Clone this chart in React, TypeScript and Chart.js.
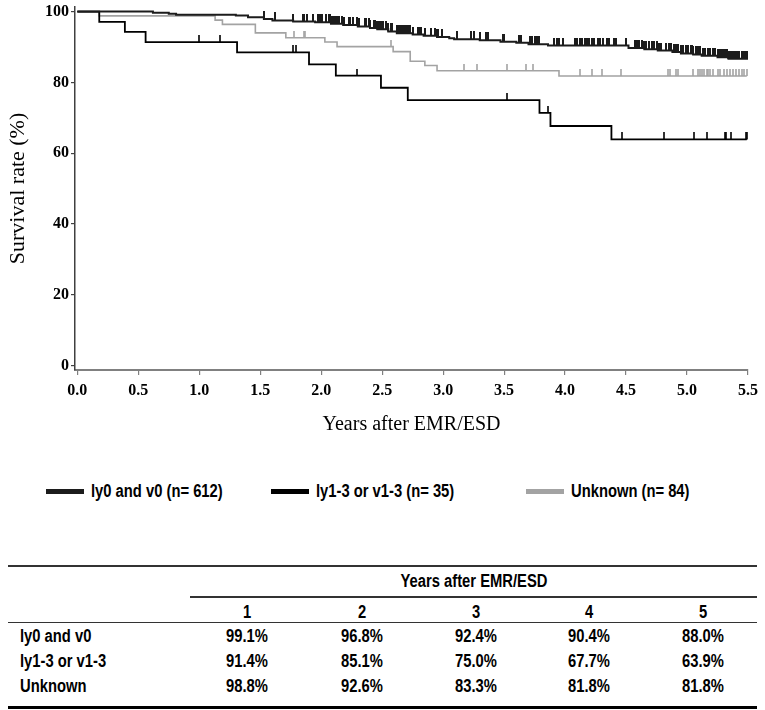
import React, { useEffect, useRef } from 'react';
import { Chart, registerables } from 'chart.js';

Chart.register(...registerables);

// Axis ticks
const xTickValues = [0, 0.5, 1, 1.5, 2, 2.5, 3, 3.5, 4, 4.5, 5, 5.5];
const xTickLabels = ['0.0', '0.5', '1.0', '1.5', '2.0', '2.5', '3.0', '3.5', '4.0', '4.5', '5.0', '5.5'];
const yTickValues = [0, 20, 40, 60, 80, 100];
const yTickLabels = ['0', '20', '40', '60', '80', '100'];

const seriesNames = ['ly0 and v0 (n= 612)', 'ly1-3 or v1-3 (n= 35)', 'Unknown (n= 84)'];

// ly0 and v0: step times (years) and survival (%) after each step
const negTimes = [0, 0.62, 0.75, 0.81, 1.30, 1.40, 1.53, 1.60, 1.77, 1.95, 2.08, 2.18, 2.30, 2.40, 2.46, 2.55, 2.62, 2.75, 2.84, 2.95, 3.05, 3.09, 3.30, 3.47, 3.60, 3.70, 3.86, 4.52, 4.65, 4.76, 4.88, 4.95, 5.05, 5.12, 5.25, 5.34, 5.50];
const negSurv = [100, 99.7, 99.4, 99.1, 98.9, 98.4, 97.9, 97.5, 97.2, 97.0, 96.6, 96.2, 95.8, 95.4, 95.0, 94.4, 93.9, 93.5, 93.2, 92.8, 92.5, 92.2, 91.9, 91.5, 91.2, 90.8, 90.4, 89.7, 89.4, 89.0, 88.6, 88.2, 87.9, 87.5, 87.1, 86.7, 86.7];
const negCensor = [1.53, 1.62, 1.77, 1.85, 1.86, 1.88, 1.93, 1.97, 1.99, 2.01, 2.04, 2.06, 2.07, 2.08, 2.10, 2.11, 2.12, 2.13, 2.14, 2.15, 2.17, 2.19, 2.23, 2.24, 2.26, 2.29, 2.31, 2.36, 2.37, 2.39, 2.40, 2.43, 2.44, 2.46, 2.47, 2.49, 2.50, 2.51, 2.53, 2.55, 2.57, 2.58, 2.62, 2.63, 2.64, 2.65, 2.66, 2.68, 2.69, 2.70, 2.72, 2.73, 2.75, 2.79, 2.80, 2.82, 2.85, 2.90, 2.93, 2.95, 2.96, 2.99, 3.11, 3.23, 3.25, 3.30, 3.35, 3.37, 3.49, 3.50, 3.62, 3.64, 3.71, 3.73, 3.75, 3.77, 3.79, 3.91, 3.93, 3.95, 3.98, 4.08, 4.10, 4.12, 4.14, 4.16, 4.18, 4.20, 4.22, 4.24, 4.27, 4.29, 4.31, 4.34, 4.36, 4.40, 4.42, 4.50, 4.57, 4.59, 4.61, 4.63, 4.65, 4.66, 4.69, 4.71, 4.73, 4.75, 4.77, 4.79, 4.83, 4.85, 4.87, 4.89, 4.91, 4.93, 4.95, 4.96, 4.97, 4.99, 5.00, 5.01, 5.03, 5.04, 5.05, 5.07, 5.08, 5.09, 5.11, 5.13, 5.14, 5.15, 5.17, 5.18, 5.19, 5.21, 5.22, 5.23, 5.25, 5.26, 5.27, 5.29, 5.30, 5.31, 5.33, 5.34, 5.35, 5.37, 5.38, 5.39, 5.41, 5.42, 5.43, 5.45, 5.46, 5.47, 5.48, 5.49];

// ly1-3 or v1-3
const posTimes = [0, 0.18, 0.39, 0.56, 1.31, 1.90, 2.12, 2.49, 2.71, 3.79, 3.88, 4.38, 5.49];
const posSurv = [100, 97.1, 94.3, 91.4, 88.5, 85.1, 81.9, 78.5, 75.0, 71.4, 67.7, 63.9, 63.9];
const posCensor = [1.00, 1.17, 1.77, 1.79, 2.29, 3.52, 3.86, 4.47, 4.81, 5.06, 5.16, 5.31, 5.32, 5.36, 5.48, 5.49];

// Unknown
const unkTimes = [0, 0.18, 1.13, 1.19, 1.46, 1.71, 2.03, 2.13, 2.59, 2.73, 2.85, 2.95, 3.95, 5.49];
const unkSurv = [100, 98.8, 97.6, 96.4, 94.0, 92.6, 91.4, 90.1, 88.7, 86.0, 84.8, 83.3, 81.8, 81.8];
const unkCensor = [1.78, 1.86, 1.87, 2.57, 3.17, 3.28, 3.52, 3.68, 3.74, 4.12, 4.22, 4.30, 4.46, 4.84, 4.86, 4.91, 4.93, 5.05, 5.09, 5.11, 5.12, 5.14, 5.16, 5.17, 5.19, 5.21, 5.25, 5.27, 5.30, 5.33, 5.35, 5.38, 5.40, 5.43, 5.45, 5.47, 5.49];

// Table
const tableTitle = 'Years after EMR/ESD';
const tableYears = ['1', '2', '3', '4', '5'];
const tableRowNames = ['ly0 and v0', 'ly1-3 or v1-3', 'Unknown'];
const tableNeg = ['99.1%', '96.8%', '92.4%', '90.4%', '88.0%'];
const tablePos = ['91.4%', '85.1%', '75.0%', '67.7%', '63.9%'];
const tableUnk = ['98.8%', '92.6%', '83.3%', '81.8%', '81.8%'];

const COLORS = { neg: '#1c1c1c', pos: '#000000', unk: '#a3a3a3' };

function survivalAt(times: number[], surv: number[], t: number) {
  let v = surv[0];
  for (let i = 0; i < times.length; i++) {
    if (times[i] <= t) v = surv[i];
  }
  return v;
}

function makeTick(color: string, len: number, w: number) {
  const c = document.createElement('canvas');
  c.width = 2;
  c.height = len * 2;
  const g = c.getContext('2d')!;
  g.fillStyle = color;
  g.fillRect((2 - w) / 2, 0, w, len);
  return c;
}

const SANS = "'Liberation Sans', Arial, sans-serif";
const SERIF = "'Liberation Serif', serif";

export default function App() {
  const ref = useRef<HTMLCanvasElement>(null);

  useEffect(() => {
    const canvas = ref.current!;
    const stepLine = (times: number[], surv: number[], color: string, width: number) => ({
      type: 'scatter' as const,
      data: times.map((t, i) => ({ x: t, y: surv[i] })),
      showLine: true,
      stepped: 'before' as const,
      borderColor: color,
      borderWidth: width,
      pointRadius: 0,
      fill: false,
    });
    const censor = (cs: number[], times: number[], surv: number[], color: string, len: number, w: number) => ({
      type: 'scatter' as const,
      data: cs.map((t) => ({ x: t, y: survivalAt(times, surv, t) })),
      showLine: false,
      pointStyle: makeTick(color, len, w),
      pointRadius: 3,
      borderWidth: 0,
    });

    const chart = new Chart(canvas, {
      type: 'scatter',
      data: {
        datasets: [
          censor(negCensor, negTimes, negSurv, COLORS.neg, 8, 2),
          censor(posCensor, posTimes, posSurv, COLORS.pos, 7, 1.6),
          censor(unkCensor, unkTimes, unkSurv, COLORS.unk, 7, 1.6),
          stepLine(negTimes, negSurv, COLORS.neg, 2),
          stepLine(posTimes, posSurv, COLORS.pos, 1.8),
          stepLine(unkTimes, unkSurv, COLORS.unk, 1.6),
        ] as any,
      },
      options: {
        animation: false,
        responsive: false,
        maintainAspectRatio: false,
        events: [],
        layout: { padding: { top: 7, right: 17, left: 0, bottom: 0 } },
        plugins: { legend: { display: false }, tooltip: { enabled: false } },
        scales: {
          x: {
            type: 'linear',
            min: -0.019,
            max: 5.5,
            afterBuildTicks: (s: any) => {
              s.ticks = xTickValues.map((v) => ({ value: v }));
            },
            afterFit: (s: any) => {
              s.height = 70;
              s.paddingLeft = 0;
              s.paddingRight = 0;
            },
            ticks: {
              autoSkip: false,
              maxRotation: 0,
              padding: 6,
              color: '#000',
              font: { family: SERIF, size: 16, weight: 'bold' },
              callback: (v: any) => xTickLabels[xTickValues.indexOf(Number(v))] ?? '',
            },
            grid: { display: true, drawOnChartArea: false, drawTicks: true, tickLength: 5, color: '#808080', lineWidth: 1.2 },
            border: { display: true, color: '#808080', width: 2 },
            title: {
              display: true,
              text: 'Years after EMR/ESD',
              color: '#000',
              font: { family: SERIF, size: 20, weight: 'normal' },
              padding: { top: 0, bottom: 3 },
            },
          },
          y: {
            type: 'linear',
            min: -1.2,
            max: 101.3,
            afterBuildTicks: (s: any) => {
              s.ticks = yTickValues.map((v) => ({ value: v }));
            },
            afterFit: (s: any) => {
              s.width = 75;
              s.paddingTop = 0;
              s.paddingBottom = 0;
            },
            ticks: {
              autoSkip: false,
              padding: 2,
              color: '#000',
              font: { family: SERIF, size: 16, weight: 'bold' },
              callback: (v: any) => yTickLabels[yTickValues.indexOf(Number(v))] ?? '',
            },
            grid: { display: true, drawOnChartArea: false, drawTicks: true, tickLength: 4, color: '#404040', lineWidth: 1.2 },
            border: { display: true, color: '#404040', width: 1.5 },
            title: {
              display: true,
              text: 'Survival rate (%)',
              color: '#000',
              font: { family: SERIF, size: 22, weight: 'normal' },
              padding: { top: 5, bottom: 0 },
            },
          },
        },
      } as any,
    });
    return () => chart.destroy();
  }, []);

  const legendBars = [46, 271, 526];
  const legendColors = [COLORS.neg, COLORS.pos, COLORS.unk];
  const colCenters = [247, 362, 476, 589, 703];
  const rowYs = [636, 661, 686];
  const rowValues = [tableNeg, tablePos, tableUnk];
  const txt: React.CSSProperties = {
    position: 'absolute',
    fontFamily: SANS,
    fontWeight: 'bold',
    fontSize: 18,
    lineHeight: '20px',
    whiteSpace: 'nowrap',
    color: '#000',
  };
  const center = (left: number, top: number): React.CSSProperties => ({
    ...txt,
    left,
    top,
    transform: 'translate(-50%, -50%) scaleX(0.82)',
  });
  const leftAt = (left: number, top: number): React.CSSProperties => ({
    ...txt,
    left,
    top,
    transformOrigin: 'left center',
    transform: 'translateY(-50%) scaleX(0.82)',
  });
  const rule = (top: number, left: number, right: number, h: number, color: string) => (
    <div style={{ position: 'absolute', top, left, width: right - left, height: h, background: color }} />
  );

  return (
    <div style={{ position: 'absolute', left: 0, top: 0, width: 765, height: 710, background: '#fff', overflow: 'hidden' }}>
      <canvas ref={ref} width={765} height={440} style={{ position: 'absolute', left: 0, top: 0, width: 765, height: 440 }} />
      {seriesNames.map((name, i) => (
        <React.Fragment key={name}>
          <div style={{ position: 'absolute', left: legendBars[i], top: 489, width: 38, height: 5, background: legendColors[i] }} />
          <div style={leftAt(legendBars[i] + 45, 491)}>{name}</div>
        </React.Fragment>
      ))}
      {rule(565, 8, 757, 1.5, '#333')}
      <div style={center((190 + 757) / 2, 581)}>{tableTitle}</div>
      {rule(596, 190, 757, 1.5, '#333')}
      {tableYears.map((y, i) => (
        <div key={y} style={center(colCenters[i], 612)}>{y}</div>
      ))}
      {rule(622, 8, 757, 1.2, '#333')}
      {tableRowNames.map((r, ri) => (
        <React.Fragment key={r}>
          <div style={leftAt(20, rowYs[ri])}>{r}</div>
          {rowValues[ri].map((v, ci) => (
            <div key={ci} style={center(colCenters[ci], rowYs[ri])}>{v}</div>
          ))}
        </React.Fragment>
      ))}
      {rule(706, 8, 757, 3, '#000')}
    </div>
  );
}
